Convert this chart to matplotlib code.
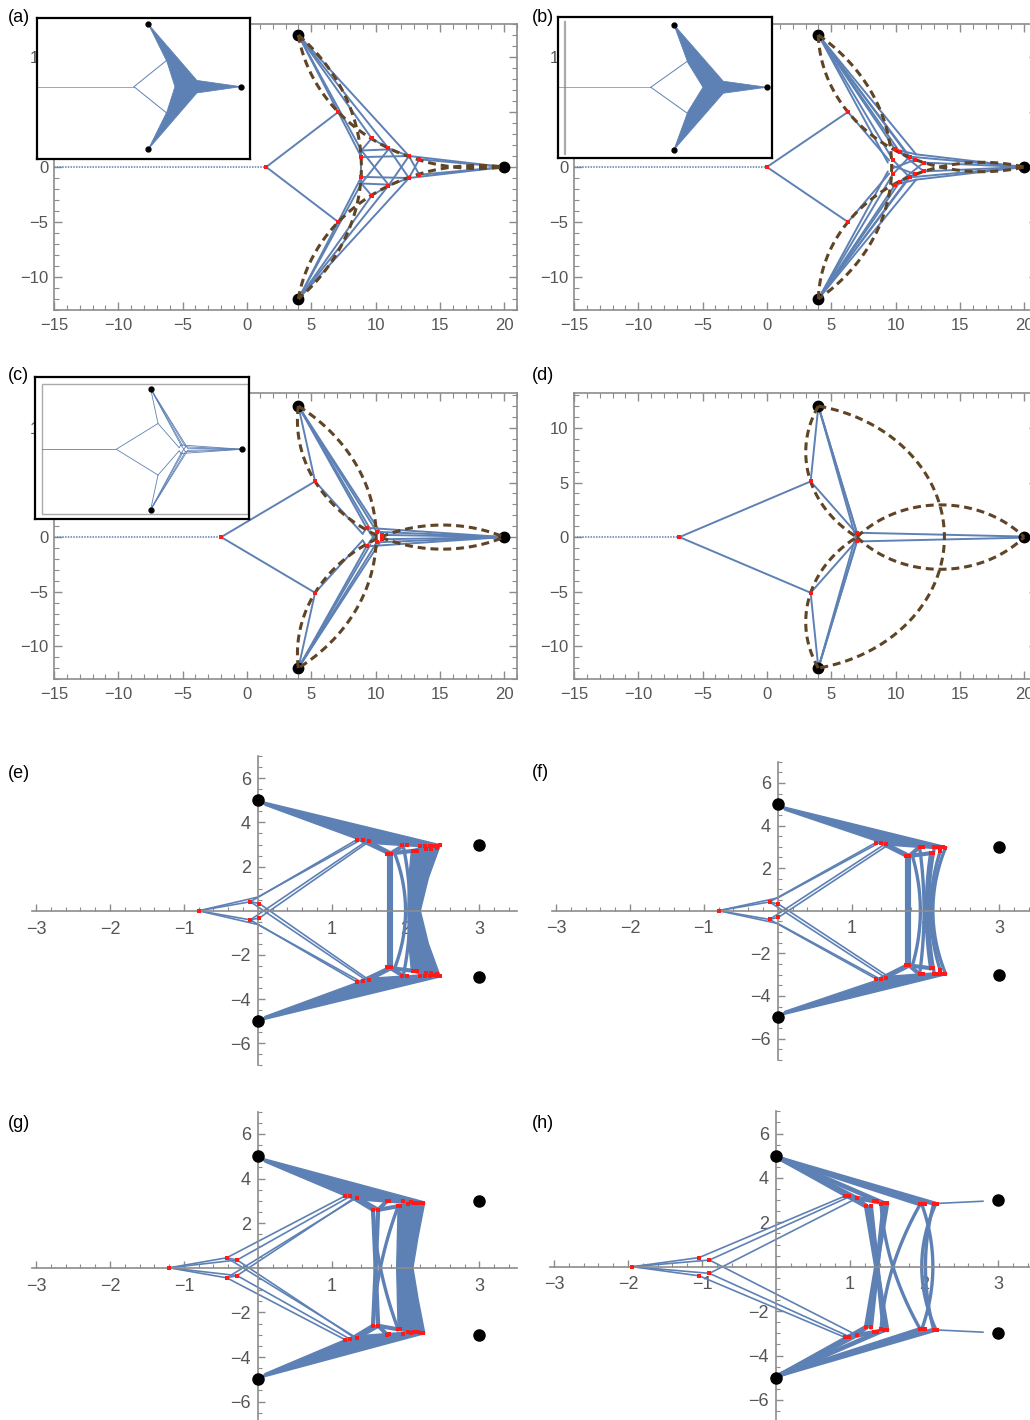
import numpy as np
import matplotlib.pyplot as plt
from matplotlib.patches import Polygon, Rectangle

plt.rcParams["font.family"] = ["Liberation Sans", "DejaVu Sans"]

W, H = 1030, 1420
BLUE = "#5e81b5"
RED = "#ff1a1a"
BROWN = "#5f4526"
GREY = "#8c8c8c"
LABEL = "#555555"

# terminals: three for the large network, four for the small one
TERMS_BIG = [(4, 12), (4, -12), (20, 0)]
TERMS_SMALL = [(0, 5), (0, -5), (3, 3), (3, -3)]

# ---- (a) ----  segments and nodes are the upper half, mirrored in y when drawn
A_ROOT = 1.5
A_SEGS = [((1.5, 0), (7.1, 5.0)), ((4, 12), (8.9, 0.9)), ((4, 12), (8.9, 1.5)),
          ((4, 12), (9.7, 2.6)), ((4, 12), (11.0, 1.7)), ((4, 12), (12.6, 1.0)),
          ((9.7, 2.6), (8.9, 1.5)), ((9.7, 2.6), (11.0, 1.7)), ((8.9, 1.5), (11.0, 1.6)),
          ((8.9, 0.9), (12.6, 1.0)), ((8.9, 1.5), (11.0, -1.6)), ((11.0, 1.7), (12.6, -1.0)),
          ((12.6, 1.0), (13.4, -0.7)), ((8.9, 1.5), (8.9, 0)), ((11.0, 1.7), (12.6, 1.0)),
          ((12.6, 1.0), (20, 0)), ((13.4, 0.7), (20, 0))]
A_NODES = [(7.1, 5.0), (9.7, 2.6), (11.0, 1.7), (8.9, 0.9), (12.6, 1.0), (13.4, 0.7)]
A_ARCS = [((4, 12), (8.9, 0), (4, -12)), ((4, 12), (7.1, 5.0), (20, 0)),
          ((4, -12), (7.1, -5.0), (20, 0))]
A_FAN = [(4, 12), (12.4, 1.2), (20, 0), (12.4, -1.2), (4, -12), (7.2, -4.85), (8.6, 0), (7.2, 4.85)]

# ---- (b) ----
B_ROOT = 0.0
B_SEGS = [((0, 0), (6.3, 5.0)), ((6.3, 5.0), (9.5, 0.6)), ((4, 12), (9.4, 0.4)),
          ((4, 12), (9.8, 0.64)), ((4, 12), (9.97, 1.6)), ((4, 12), (10.35, 1.33)),
          ((4, 12), (10.8, 1.3)), ((4, 12), (11.1, 0.94)), ((4, 12), (11.6, 1.15)),
          ((9.8, 0.64), (11.1, -0.94)), ((10.35, 1.33), (12.2, -0.4)),
          ((9.97, 1.6), (11.5, 0.64)), ((9.8, 0.1), (11.5, -0.64)), ((9.97, 1.6), (11.6, 1.15)),
          ((11.5, 0.64), (12.2, 0.4)), ((11.6, 1.15), (20, 0)), ((11.1, 0.94), (20, 0)),
          ((12.2, 0.4), (20, 0))]
B_NODES = [(6.3, 5.0), (9.97, 1.6), (10.35, 1.33), (11.1, 0.94), (11.5, 0.64),
           (12.2, 0.4), (9.8, 0.64)]
B_ARCS = [((4, 12), (9.7, 0), (4, -12)), ((4, 12), (6.3, 5.0), (20, 0)),
          ((4, -12), (6.3, -5.0), (20, 0))]
B_FAN = [(4, 12), (12.5, 1.15), (20, 0), (12.5, -1.15), (4, -12), (6.4, -4.7), (9.0, 0), (6.4, 4.7)]

# ---- (c) ----
C_ROOT = -2.0
C_SEGS = [((-2, 0), (5.3, 5.1)), ((4, 12), (5.3, 5.1)), ((5.3, 5.1), (9.0, 0.3)),
          ((4, 12), (9.3, 0.85)), ((4, 12), (9.6, 0.7)), ((4, 12), (10.1, 0.48)),
          ((4, 12), (10.5, 0.2)), ((9.0, 0.3), (9.3, 0.85)), ((9.3, 0.85), (10.1, -0.48)),
          ((9.3, 0.85), (20, 0)), ((10.1, 0.48), (20, 0)), ((10.5, 0.2), (20, 0))]
C_NODES = [(5.3, 5.1), (9.3, 0.85), (10.1, 0.48), (10.5, 0.2)]
C_ARCS = [((4, 12), (5.3, 5.1), (10.4, 0)), ((4, -12), (5.3, -5.1), (10.4, 0)),
          ((4, 12), (10.05, 0), (4, -12)), ((10.4, 0), (15.5, 1.1), (20, 0)),
          ((10.4, 0), (15.5, -1.1), (20, 0))]

# ---- (d) ----
D_ROOT = -6.8
D_SEGS = [((-6.8, 0), (3.4, 5.1)), ((3.4, 5.1), (4, 12)), ((3.4, 5.1), (7.0, 0.3)),
          ((4, 12), (7.0, 0.4)), ((4, 12), (7.05, 0.15)), ((4, 12), (6.95, -0.25)),
          ((7.0, 0.4), (20, 0.05))]
D_NODES = [(3.4, 5.1), (7.0, 0.4)]
D_ARCS = [((4, 12), (3.4, 5.1), (7, 0)), ((4, -12), (3.4, -5.1), (7, 0)),
          ((4, 12), (13.8, 0), (4, -12)), ((7, 0), (13.5, 2.95), (20, 0)),
          ((7, 0), (13.5, -2.95), (20, 0))]

# ---- (e) ----
E_ROOT = -0.8
E_THIN = [((-0.8, 0), (-0.1, 0.41)), ((-0.8, 0), (0.0, 0.62)), ((-0.1, 0.41), (0.02, 0.33)),
          ((-0.1, 0.41), (1.34, 3.22)), ((0.0, 0.62), (1.4, 3.22)),
          ((-0.1, -0.41), (1.47, 3.15)), ((0.02, -0.33), (1.5, 3.12))]
E_THICK = [((1.4, 3.2), (1.78, 2.6)), ((1.5, 3.12), (1.8, 2.6)), ((1.77, 2.6), (1.77, 0)),
           ((1.8, 2.6), (1.8, 0)), ((1.8, 2.6), (1.97, 2.95)), ((1.8, 2.6), (2.12, 2.72))]
E_FAN = [(0.05, 4.95), (2.47, 2.99), (2.4, 2.86), (1.5, 3.06), (0.1, 4.78)]
E_BODY = [(2.08, 2.74), (2.25, 2.92), (2.47, 2.97), (2.31, 1.5), (2.2, 0), (2.31, -1.5),
          (2.47, -2.97), (2.25, -2.92), (2.08, -2.74), (2.04, -1.3), (2.03, 0), (2.04, 1.3)]
E_ARCS = [((1.85, 2.62), (2.0, 0), (1.85, -2.62)), ((1.97, 2.92), (2.06, 0), (1.97, -2.92))]
E_NODES = [(-0.1, 0.41), (0.02, 0.33), (1.34, 3.22), (1.42, 3.2), (1.5, 3.15), (1.75, 2.55),
           (1.8, 2.55), (1.95, 2.97), (2.02, 2.97), (2.1, 2.72), (2.16, 2.72), (2.2, 2.95),
           (2.27, 2.95), (2.33, 2.93), (2.38, 2.92), (2.43, 2.95), (2.47, 2.96), (2.28, 2.82),
           (2.35, 2.8), (2.42, 2.86)]

# ---- (f) ----
F_ROOT = -0.8
F_THIN = [((-0.8, 0), (-0.11, 0.41)), ((-0.8, 0), (0.0, 0.6)), ((-0.11, 0.41), (0.01, 0.31)),
          ((-0.11, 0.41), (1.33, 3.2)), ((0.0, 0.6), (1.38, 3.2)),
          ((-0.11, -0.41), (1.46, 3.15)), ((0.01, -0.31), (1.5, 3.1))]
F_THICK = [((1.4, 3.18), (1.75, 2.57)), ((1.46, 3.13), (1.78, 2.57)), ((1.75, 2.57), (1.75, 0)),
           ((1.78, 2.57), (1.78, 0)), ((1.78, 2.57), (1.92, 2.99)), ((1.78, 2.57), (2.07, 2.7))]
F_FAN = [(0.05, 4.9), (2.28, 3.0), (2.2, 2.9), (1.5, 3.08), (0.1, 4.72)]
F_ARCS = [((1.82, 2.6), (1.93, 0), (1.82, -2.6)), ((1.92, 2.97), (1.98, 0), (1.92, -2.97)),
          ((2.07, 2.72), (2.01, 0), (2.07, -2.72)), ((2.12, 2.97), (2.04, 0), (2.12, -2.97)),
          ((2.2, 2.8), (2.07, 0), (2.2, -2.8)), ((2.27, 2.95), (2.1, 0), (2.27, -2.95))]
F_NODES = [(-0.11, 0.41), (0.01, 0.31), (1.33, 3.2), (1.4, 3.19), (1.46, 3.15), (1.73, 2.55),
           (1.77, 2.56), (1.92, 2.99), (1.97, 2.99), (2.07, 2.7), (2.1, 2.71), (2.12, 2.97),
           (2.16, 2.97), (2.19, 2.97), (2.23, 2.97), (2.26, 2.96), (2.2, 2.78)]

# ---- (g) ----
G_ROOT = -1.2
G_THIN = [((-1.2, 0), (-0.42, 0.45)), ((-1.2, 0), (-0.28, 0.35)), ((-0.42, 0.45), (-0.28, 0.35)),
          ((-0.42, 0.45), (1.18, 3.22)), ((-0.28, 0.35), (1.25, 3.2)),
          ((-0.42, -0.45), (1.34, 3.15)), ((-0.28, -0.35), (1.3, 3.12))]
G_THICK = [((1.3, 3.12), (1.56, 2.6)), ((1.34, 3.15), (1.63, 2.6)), ((1.63, 2.6), (1.75, 3.0)),
           ((1.63, 2.6), (1.9, 2.76)), ((1.56, 2.6), (1.63, -2.6))]
G_FAN = [(0.05, 4.92), (2.26, 2.95), (2.2, 2.84), (1.3, 3.06), (0.1, 4.74)]
G_BODY = [(1.9, 2.8), (2.05, 2.88), (2.26, 2.93), (2.17, 1.4), (2.1, 0), (2.17, -1.4),
          (2.26, -2.93), (2.05, -2.88), (1.9, -2.8), (1.88, 0)]
G_ARCS = [((1.56, 2.59), (1.66, 0), (1.9, -2.76)), ((1.9, 2.76), (1.66, 0), (1.56, -2.59))]
G_NODES = [(-0.42, 0.45), (-0.28, 0.35), (1.18, 3.22), (1.25, 3.21), (1.34, 3.15), (1.56, 2.59),
           (1.63, 2.6), (1.75, 3.0), (1.78, 2.99), (1.9, 2.76), (1.93, 2.76), (1.97, 2.98),
           (2.04, 2.87), (2.07, 2.94), (2.1, 2.9), (2.14, 2.89), (2.17, 2.9), (2.21, 2.91),
           (2.24, 2.91)]

# ---- (h) ----
H_ROOT = -1.94
H_THIN = [((-1.94, 0), (-1.04, 0.41)), ((-1.94, 0), (-0.9, 0.3)), ((-1.04, 0.41), (0.93, 3.18)),
          ((-0.9, 0.3), (0.99, 3.15)), ((-0.9, -0.3), (1.09, 3.08)), ((2.18, 2.85), (2.8, 2.95))]
H_THICK = [((0.07, 4.85), (1.09, 3.08)), ((0.07, 4.85), (1.22, 2.72)), ((0.07, 4.85), (1.46, 2.85)),
           ((0.07, 4.85), (1.95, 2.82)), ((0.07, 4.85), (2.15, 2.83)), ((1.09, 3.08), (1.22, 2.72)),
           ((0.99, 3.15), (1.33, 2.96)), ((1.33, 2.96), (1.46, 2.85)), ((1.22, 2.72), (1.5, -2.85)),
           ((1.28, 2.73), (1.46, -2.85))]
H_ARCS = [((1.95, 2.82), (1.58, 0), (1.42, -2.82)), ((1.42, 2.82), (1.58, 0), (1.95, -2.82)),
          ((2.16, 2.83), (1.97, 0), (2.16, -2.83)), ((1.97, 2.82), (2.12, 0), (1.97, -2.82)),
          ((2.13, 2.83), (2.02, 0), (2.13, -2.83))]
H_NODES = [(-1.04, 0.41), (-0.9, 0.3), (0.93, 3.18), (0.99, 3.17), (1.09, 3.08), (1.22, 2.72),
           (1.28, 2.73), (1.33, 2.96), (1.37, 2.96), (1.42, 2.81), (1.46, 2.85), (1.5, 2.86),
           (1.95, 2.82), (1.98, 2.82), (2.01, 2.82), (2.13, 2.83), (2.16, 2.83), (2.18, 2.83)]

fig = plt.figure(figsize=(W / 100, H / 100), dpi=100)


def px_rect(left, top, right, bottom):
    return [left / W, 1 - bottom / H, (right - left) / W, (bottom - top) / H]


def mirror_segs(segs):
    return list(segs) + [((x0, -y0), (x1, -y1)) for (x0, y0), (x1, y1) in segs]


def mirror_pts(pts):
    return list(pts) + [(x, -y) for x, y in pts]


def arc_points(p0, pm, p1, n=120):
    """Circular arc from p0 to p1 passing through pm."""
    (x1, y1), (x2, y2), (x3, y3) = p0, pm, p1
    d = 2 * (x1 * (y2 - y3) + x2 * (y3 - y1) + x3 * (y1 - y2))
    s1, s2, s3 = x1**2 + y1**2, x2**2 + y2**2, x3**2 + y3**2
    ux = (s1 * (y2 - y3) + s2 * (y3 - y1) + s3 * (y1 - y2)) / d
    uy = (s1 * (x3 - x2) + s2 * (x1 - x3) + s3 * (x2 - x1)) / d
    r = np.hypot(x1 - ux, y1 - uy)
    a0 = np.arctan2(y1 - uy, x1 - ux)
    am = (np.arctan2(y2 - uy, x2 - ux) - a0) % (2 * np.pi)
    a1 = (np.arctan2(y3 - uy, x3 - ux) - a0) % (2 * np.pi)
    t = a0 + np.linspace(0, a1, n) if am < a1 else a0 - np.linspace(0, 2 * np.pi - a1, n)
    return ux + r * np.cos(t), uy + r * np.sin(t)


def draw_segs(ax, segs, lw, color=BLUE, **kw):
    for (x0, y0), (x1, y1) in segs:
        ax.plot([x0, x1], [y0, y1], color=color, lw=lw, solid_capstyle="round", zorder=2, **kw)


def draw_nodes(ax, pts, ms=3):
    xs, ys = zip(*pts)
    ax.plot(xs, ys, "s", color=RED, ms=ms, mew=0, zorder=5)


def frame_axes(rect, ylim):
    ax = fig.add_axes(px_rect(*rect))
    ax.set_xlim(-15, 21)
    ax.set_ylim(*ylim)
    ax.set_xticks(range(-15, 21, 5))
    ax.set_xticks(range(-15, 22), minor=True)
    ax.set_yticks(range(-10, 11, 5))
    ax.set_yticks(range(-13, 14), minor=True)
    ax.tick_params(which="both", direction="in", top=True, right=True, color=GREY,
                   labelcolor=LABEL, labelsize=12)
    ax.tick_params(which="major", length=6, width=1)
    ax.tick_params(which="minor", length=3.5, width=0.8)
    ax.tick_params(axis="x", pad=6)
    ax.tick_params(axis="y", pad=4)
    for s in ax.spines.values():
        s.set_color(GREY)
        s.set_linewidth(1.2)
    return ax


def network_panel(rect, ylim, root, segs, nodes, arcs):
    ax = frame_axes(rect, ylim)
    ax.plot([-15, root], [0, 0], color=BLUE, lw=1.1, ls=(0, (1, 0.8)), zorder=2)
    draw_segs(ax, mirror_segs(segs), 1.4)
    xs, ys = zip(*TERMS_BIG)
    ax.plot(xs, ys, "o", color="black", ms=7.5, zorder=3)
    for p0, pm, p1 in arcs:
        ax.plot(*arc_points(p0, pm, p1), color=BROWN, lw=2.2, ls=(0, (2.6, 1.6)), zorder=4)
    draw_nodes(ax, mirror_pts(nodes) + [(root, 0)])
    return ax


def inset_axes(rect, xlim, ylim):
    ax = fig.add_axes(px_rect(*rect))
    ax.set_zorder(5)
    ax.set_xlim(*xlim)
    ax.set_ylim(*ylim)
    ax.set_xticks([])
    ax.set_yticks([])
    for s in ax.spines.values():
        s.set_color("black")
        s.set_linewidth(1.6)
    return ax


def fan_inset(ax, root, branch, fan):
    ax.plot([ax.get_xlim()[0], root], [0, 0], color=BLUE, lw=0.6, alpha=0.8)
    draw_segs(ax, mirror_segs([((root, 0), branch)]), 0.7)
    ax.add_patch(Polygon(fan, closed=True, fc=BLUE, ec=BLUE, lw=0.6, zorder=2))
    xs, ys = zip(*TERMS_BIG)
    ax.plot(xs, ys, "o", color="black", ms=3.5, zorder=3)


def axis_panel(rect):
    ax = fig.add_axes(px_rect(*rect))
    ax.set_xlim(-3.06, 3.51)
    ax.set_ylim(-7, 7)
    for side in ("top", "right"):
        ax.spines[side].set_visible(False)
    for side in ("left", "bottom"):
        ax.spines[side].set_position(("data", 0))
        ax.spines[side].set_color(GREY)
        ax.spines[side].set_linewidth(1.2)
    ax.set_xticks([-3, -2, -1, 1, 2, 3])
    ax.set_xticks(np.arange(-3, 3.51, 0.2), minor=True)
    ax.set_yticks([-6, -4, -2, 2, 4, 6])
    ax.set_yticks(np.arange(-7, 7.01, 0.5), minor=True)
    ax.tick_params(which="both", direction="in", color=GREY, labelcolor=LABEL, labelsize=13)
    ax.tick_params(which="major", length=5, width=1)
    ax.tick_params(which="minor", length=2.8, width=0.8)
    ax.tick_params(axis="x", pad=7)
    ax.tick_params(axis="y", pad=5)
    return ax


def bottom_panel(rect, root, thin, thick, fan, body, arcs, nodes, thick_lw=3.0):
    ax = axis_panel(rect)
    draw_segs(ax, mirror_segs(thin), 1.2)
    draw_segs(ax, mirror_segs(thick), thick_lw)
    if fan is not None:
        for poly in (fan, [(x, -y) for x, y in fan]):
            ax.add_patch(Polygon(poly, closed=True, fc=BLUE, ec=BLUE, lw=1, zorder=2))
    if body is not None:
        ax.add_patch(Polygon(body, closed=True, fc=BLUE, ec=BLUE, lw=1, zorder=2))
    for p0, pm, p1 in arcs:
        ax.plot(*arc_points(p0, pm, p1), color=BLUE, lw=2.4, zorder=2)
    xs, ys = zip(*TERMS_SMALL)
    ax.plot(xs, ys, "o", color="black", ms=8, zorder=4)
    draw_nodes(ax, mirror_pts(nodes) + [(root, 0)], ms=3)
    return ax


def main():
    network_panel((54, 24, 517, 310), (-13, 13), A_ROOT, A_SEGS, A_NODES, A_ARCS)
    network_panel((574, 24, 1037, 310), (-13, 13), B_ROOT, B_SEGS, B_NODES, B_ARCS)
    network_panel((54, 393, 517, 679), (-13, 13.2), C_ROOT, C_SEGS, C_NODES, C_ARCS)
    network_panel((574, 393, 1037, 679), (-13, 13.2), D_ROOT, D_SEGS, D_NODES, D_ARCS)

    ia = inset_axes((37, 18, 250, 159), (-15.3, 21.6), (-13.9, 13.2))
    fan_inset(ia, A_ROOT, (7.1, 5.0), A_FAN)

    ib = inset_axes((558, 17, 772, 158), (-16, 20.9), (-13.6, 13.5))
    ib.plot([-14.8, -14.8], [-12.9, 12.6], color="#aaaaaa", lw=1.6)
    fan_inset(ib, B_ROOT, (6.3, 5.0), B_FAN)

    ic = inset_axes((35, 377, 249, 519), (-16.2, 21.2), (-13.8, 14.3))
    ic.add_patch(Rectangle((-15, -12.9), 36, 25.9, fill=False, ec="#aaaaaa", lw=1))
    ic.plot([-15, C_ROOT], [0, 0], color=BLUE, lw=0.6)
    draw_segs(ic, mirror_segs(C_SEGS), 0.6)
    xs, ys = zip(*TERMS_BIG)
    ic.plot(xs, ys, "o", color="black", ms=3.5, zorder=3)

    bottom_panel((31.7, 756.2, 517.1, 1065.4), E_ROOT, E_THIN, E_THICK, E_FAN, E_BODY, E_ARCS, E_NODES)
    bottom_panel((551.6, 761.6, 1037.1, 1059.8), F_ROOT, F_THIN, F_THICK, F_FAN, None, F_ARCS, F_NODES)
    bottom_panel((31.7, 1111.7, 517.1, 1423.9), G_ROOT, G_THIN, G_THICK, G_FAN, G_BODY, G_ARCS, G_NODES)
    bottom_panel((549.6, 1111.3, 1035.7, 1422.1), H_ROOT, H_THIN, H_THICK, None, None, H_ARCS, H_NODES,
                 thick_lw=3.4)

    for text, x, y in [("(a)", 8, 18), ("(b)", 532, 18), ("(c)", 8, 376), ("(d)", 532, 375),
                       ("(e)", 8, 773), ("(f)", 532, 772), ("(g)", 8, 1124), ("(h)", 532, 1124)]:
        fig.text(x / W, 1 - y / H, text, fontsize=13, va="center", ha="left")

    fig.savefig("out.png", dpi=100)


if __name__ == "__main__":
    main()
